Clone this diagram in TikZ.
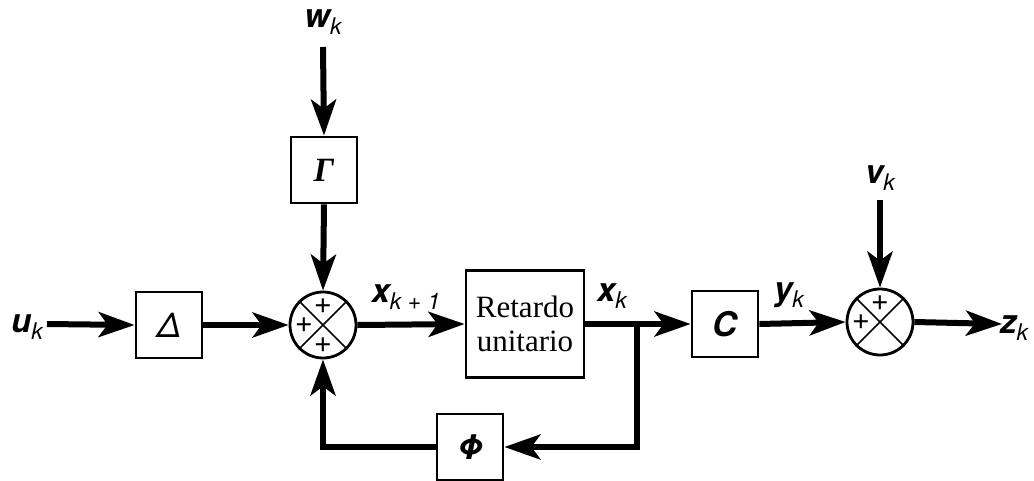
\documentclass[tikz,border=0pt]{standalone}
\usepackage{fontspec}
\setmainfont{Liberation Serif}
\newfontfamily\hv{TeX Gyre Heros}
\usetikzlibrary{arrows.meta}
\newcommand\sgl[2]{{\hv\bfseries\itshape #1}\raisebox{-0.5ex}{\hv\itshape\fontsize{23}{23}\selectfont #2}}
\begin{document}
\begin{tikzpicture}[x=1pt,y=-1pt,
 blk/.style={draw, line width=2.8pt, minimum width=66pt, minimum height=66pt, inner sep=0pt, font=\fontsize{34}{34}\selectfont},
 sumc/.style={draw, circle, line width=2.8pt, minimum size=66pt, inner sep=0pt},
 sig/.style={inner sep=0pt, font=\fontsize{33}{33}\selectfont},
 arr/.style={line width=6pt, -{Stealth[length=36pt,width=25pt,inset=9pt]}},
 ln/.style={line width=6pt},
 pl/.style={inner sep=0pt, font=\hv\fontsize{31}{31}\selectfont},
 xl/.style={line width=1.6pt}
]
\useasboundingbox (0,0) rectangle (1034,480);
% signals / labels
\node[sig] (uk) at (27,327) {\sgl{u}{k}};
\coordinate (uin) at (47,324);
\node[sig] (wk) at (323,22) {\sgl{w}{k}};
\coordinate (win) at (323,47);
\node[sig] (vk) at (880,178) {\sgl{v}{k}};
\coordinate (vin) at (880,200);
\node[sig] (zk) at (1014,328) {\sgl{z}{k}};
\coordinate (zout) at (1002,324);
\node[sig] (xk1) at (406,297) {\sgl{x}{k + 1}};
\node[sig] (xk) at (612,296) {\sgl{x}{k}};
\node[sig] (yk) at (789,295) {\sgl{y}{k}};
% blocks
\node[blk] (D) at (169,325) {\hv\itshape Δ};
\node[blk] (G) at (324,170) {\bfseries\itshape Γ};
\node[sumc] (S1) at (323,325) {};
\node[blk, minimum width=118pt, minimum height=107pt, align=center, font=\fontsize{31}{34}\selectfont] (R) at (525,324) {Retardo\\unitario};
\node[blk] (C) at (725,324) {\hv\bfseries\itshape C};
\node[sumc] (S2) at (880,322) {};
\node[blk] (P) at (470,447) {\hv\bfseries\itshape Φ};
\coordinate (J) at (637,324);
% sum details
\draw[xl] (S1.45) -- (S1.225) (S1.135) -- (S1.315);
\draw[xl] (S2.45) -- (S2.225) (S2.135) -- (S2.315);
\node[pl] (p1t) at ([yshift=19pt]S1.center) {+};
\node[pl] (p1l) at ([xshift=-19pt]S1.center) {+};
\node[pl] (p1b) at ([yshift=-20pt]S1.center) {+};
\node[pl] (p2t) at ([yshift=19pt]S2.center) {+};
\node[pl] (p2l) at ([xshift=-19pt]S2.center) {+};
% connectors
\draw[arr] (uin) -- (D.west);
\draw[arr] (D.east) -- (S1.west);
\draw[arr] (win) -- (G.north);
\draw[arr] (G.south) -- (S1.north);
\draw[arr] (S1.east) -- (R.west);
\draw[ln] (R.east) -- (J);
\draw[arr] (J) -- (C.west);
\draw[arr] (C.east) -- (S2.west);
\draw[arr] (vin) -- (S2.north);
\draw[arr] (S2.east) -- (zout);
\draw[arr] (J) |- (P.east);
\draw[arr] (P.west) -| (S1.south);
\end{tikzpicture}
\end{document}
